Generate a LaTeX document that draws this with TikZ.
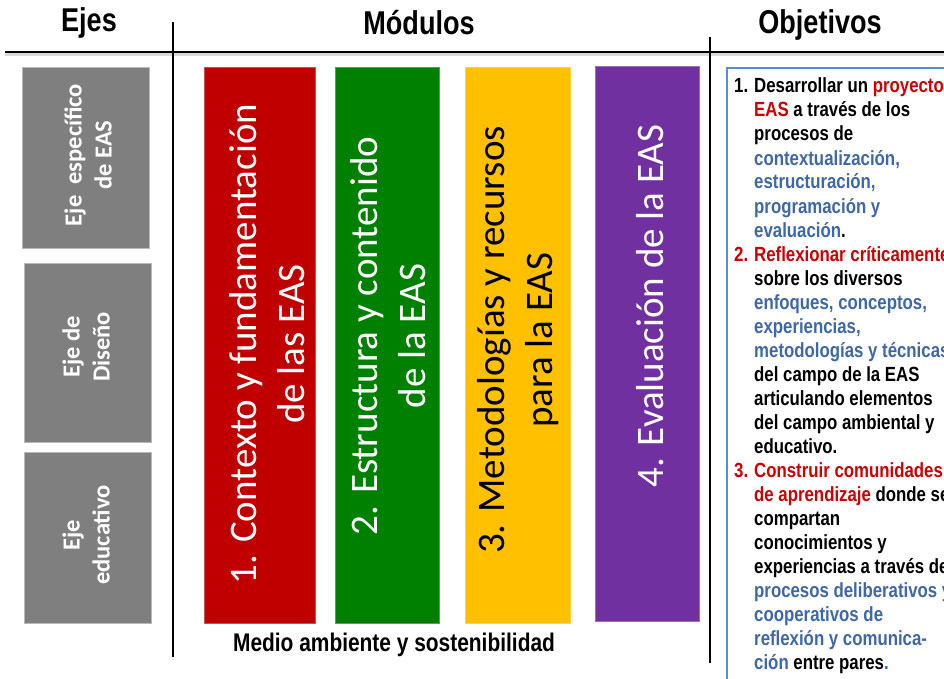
\documentclass[tikz,border=0pt]{standalone}
\usepackage{fontspec}
\setmainfont{Liberation Sans}
\newfontfamily\narrowsf{Liberation Sans}[FakeStretch=0.82]
\newfontfamily\calib{Carlito}
\definecolor{axisgrey}{HTML}{7F7F7F}
\definecolor{modred}{HTML}{C00000}
\definecolor{modgreen}{HTML}{008000}
\definecolor{modyellow}{HTML}{FFC000}
\definecolor{modpurple}{HTML}{7030A0}
\definecolor{objblue}{HTML}{5B8BD0}
\definecolor{txtblue}{HTML}{3F68A8}
\definecolor{txtred}{HTML}{CC0000}
\newcommand{\rd}[1]{\textcolor{txtred}{#1}}
\newcommand{\bl}[1]{\textcolor{txtblue}{#1}}
\begin{document}
\begin{tikzpicture}[x=1pt,y=-1pt,
  hdr/.style={inner sep=0pt, font=\narrowsf\bfseries\fontsize{33}{36}\selectfont},
  axisbox/.style={fill=axisgrey, draw=gray!55, line width=0.6pt, inner sep=0pt},
  axistxt/.style={text=white, rotate=90, align=center, inner sep=0pt,
    font=\calib\bfseries\fontsize{24.5}{30}\selectfont},
  modbar/.style={draw=#1!70!white, line width=0.6pt, fill=#1, inner sep=0pt},
  modtxt/.style={rotate=90, align=center, inner sep=0pt,
    font=\calib\fontsize{39}{48}\selectfont},
  objline/.style={anchor=base west, inner sep=0pt,
    font=\narrowsf\bfseries\fontsize{20.5}{24}\selectfont},
  rule/.style={line width=1.6pt, black}
]
\clip (0,0) rectangle (944,679);
\fill[white] (0,0) rectangle (944,679);

% headers
\node[hdr] (hEjes) at (89,23) {Ejes};
\node[hdr] (hMod) at (419,23) {Módulos};
\node[hdr] (hObj) at (820,25) {Objetivos};

% rules
\coordinate (hl1) at (5,52);
\coordinate (hl2) at (944,52);
\coordinate (v1a) at (173,22);
\coordinate (v1b) at (173,657);
\coordinate (v2a) at (710,37);
\coordinate (v2b) at (710,663);
\draw[line width=4pt, black!15] ([yshift=-2pt]hl1) -- ([yshift=-2pt]hl2);
\draw[line width=2.4pt] (hl1) -- (hl2);
\draw[rule] (v1a) -- (v1b);
\draw[rule] (v2a) -- (v2b);

% axes
\node[axisbox, minimum width=127, minimum height=181] (ax1) at (85.5,157.5) {};
\node[axisbox, minimum width=127, minimum height=179] (ax2) at (87.5,352.5) {};
\node[axisbox, minimum width=127, minimum height=171] (ax3) at (87.5,537.5) {};
\node[axistxt] (ax1t) at (88,155) {Eje\ \ específico\\de EAS};
\node[axistxt] (ax2t) at (86,347) {Eje de\\Diseño};
\node[axistxt] (ax3t) at (86,535) {Eje\\educativo};

% modules
\node[modbar=modred, minimum width=111, minimum height=556] (m1) at (259.5,345) {};
\node[modbar=modgreen, minimum width=104, minimum height=556] (m2) at (387,345) {};
\node[modbar=modyellow, minimum width=105, minimum height=556] (m3) at (517.5,345) {};
\node[modbar=modpurple, minimum width=104, minimum height=555] (m4) at (647,343.5) {};
\node[modtxt, text=white] (m1t) at (267,344) {1. Contexto y fundamentación\\de las EAS};
\node[modtxt, text=white] (m2t) at (388,336) {2. Estructura y contenido\\de la EAS};
\node[modtxt, text=black] (m3t) at (518,340) {3. Metodologías y recursos\\para la EAS};
\node[modtxt, text=white] (m4t) at (650,306) {4. Evaluación de la EAS};

\node[inner sep=0pt, font=\narrowsf\bfseries\fontsize{25.5}{28}\selectfont] (medio) at (394,645) {Medio ambiente y sostenibilidad};

% objectives box
\node[draw=objblue, line width=1.8pt, fill=white, minimum width=260, minimum height=640, anchor=north west, inner sep=0pt] (objbox) at (726,67) {};
\foreach \t [count=\i] in {
  {\llap{1.\hspace{6pt}}Desarrollar un \rd{proyecto}},
  {\rd{EAS} a través de los},
  {procesos de},
  {\bl{contextualización,}},
  {\bl{estructuración,}},
  {\bl{programación y}},
  {\bl{evaluación}.},
  {\llap{\rd{2.}\hspace{6pt}}\rd{Reflexionar críticamente}},
  {sobre los diversos},
  {\bl{enfoques, conceptos,}},
  {\bl{experiencias,}},
  {\bl{metodologías y técnicas}},
  {del campo de la EAS},
  {articulando elementos},
  {del campo ambiental y},
  {educativo.},
  {\llap{\rd{3.}\hspace{6pt}}\rd{Construir comunidades}},
  {\rd{de aprendizaje} donde se},
  {compartan},
  {conocimientos y},
  {experiencias a través de},
  {\bl{procesos deliberativos y}},
  {\bl{cooperativos de}},
  {\bl{reflexión y comunica-}},
  {\bl{ción} entre pares\bl{.}}
} {
  \node[objline] (o\i) at (754,{93+24*(\i-1)}) {\t};
}
\end{tikzpicture}
\end{document}
